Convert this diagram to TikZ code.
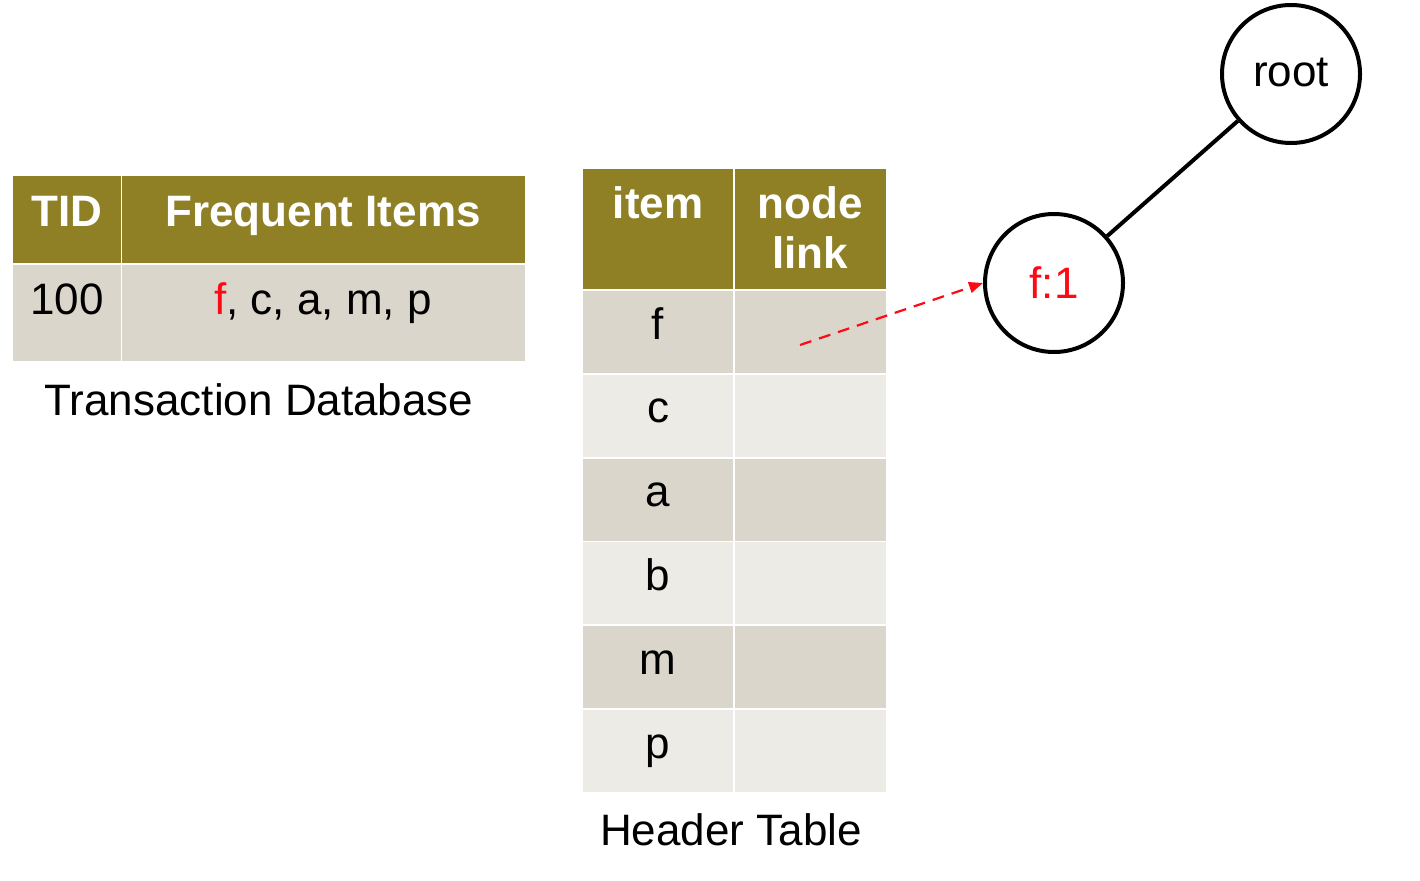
\documentclass[tikz,border=0pt]{standalone}
\usepackage{fontspec}
\setmainfont{Liberation Sans}
\usetikzlibrary{arrows.meta}
\definecolor{olive}{HTML}{8F8026}
\definecolor{rowdark}{HTML}{DAD6CB}
\definecolor{rowlight}{HTML}{ECEBE5}
\definecolor{linkred}{HTML}{FF0A14}
\tikzset{
  cell/.style={anchor=north west, inner sep=0pt, outer sep=0pt, draw=none},
  hd/.style={cell, fill=olive},
  dk/.style={cell, fill=rowdark},
  lt/.style={cell, fill=rowlight},
  txt/.style={anchor=base, inner sep=0pt, font=\fontsize{44}{50}\selectfont},
  htxt/.style={txt, text=white, font=\fontsize{44}{50}\selectfont\bfseries},
  tnode/.style={circle, draw=black, line width=4pt, minimum size=138pt, inner sep=0pt, font=\fontsize{44}{50}\selectfont},
}
\begin{document}
\begin{tikzpicture}[x=1pt,y=-1pt]
\useasboundingbox (0,0) rectangle (1420,880);
% Transaction database
\node[hd, minimum width=108pt, minimum height=87pt] (tidh) at (13,176) {};
\node[hd, minimum width=403pt, minimum height=87pt] (fih) at (122,176) {};
\node[dk, minimum width=108pt, minimum height=96pt] (tidr) at (13,265) {};
\node[dk, minimum width=403pt, minimum height=96pt] (fir) at (122,265) {};
\node[htxt] (tidt) at (67,226) {TID};
\node[htxt] (fit) at (323,226) {Frequent Items};
\node[txt] (t100) at (67,314) {100};
\node[txt] (items) at (323,314) {\textcolor{linkred}{f}, c, a, m, p};
\node[txt] (tdb) at (259,415) {Transaction Database};
% Header table
\node[hd, minimum width=150pt, minimum height=120pt] (ih) at (583,169) {};
\node[hd, minimum width=151pt, minimum height=120pt] (nh) at (735,169) {};
\node[htxt] (itemt) at (658,218) {item};
\node[htxt] (nodet) at (810,218) {node};
\node[htxt] (linkt) at (810,268) {link};
\foreach \i/\s/\l in {0/dk/f,1/lt/c,2/dk/a,3/lt/b,4/dk/m,5/lt/p}{
  \node[\s, minimum width=150pt, minimum height=82pt] (ic\i) at (583,{291+83.8*\i}) {};
  \node[\s, minimum width=151pt, minimum height=82pt] (nc\i) at (735,{291+83.8*\i}) {};
  \node[txt] (il\i) at (658,{339+83.8*\i}) {\l};
}
\node[txt] (htl) at (731,845) {Header Table};
% tree
\node[tnode] (root) at (1291,74) {\raisebox{3pt}{root}};
\node[tnode, text=linkred] (f1) at (1054,283) {f:1};
\draw[line width=4pt] (root) -- (f1);
\coordinate (ls) at (800,345);
\draw[linkred, line width=2.2pt, dash pattern=on 12pt off 8pt, -{Triangle[length=14pt,width=11pt]}] (ls) -- (f1.west);
\end{tikzpicture}
\end{document}
